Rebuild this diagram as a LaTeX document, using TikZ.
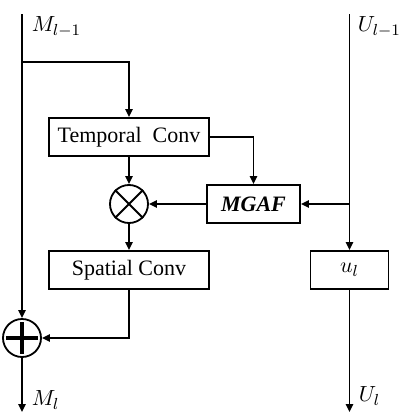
\documentclass[tikz,border=0pt]{standalone}
\usepackage{fontspec}
\setmainfont{Liberation Serif}
\usetikzlibrary{arrows.meta,positioning,calc}

\begin{document}
\begin{tikzpicture}[x=0.5pt, y=-0.5pt, line width=0.9pt,
    font=\fontsize{11}{13}\selectfont,
    blk/.style={draw, minimum height=19pt, inner sep=0pt},
    op/.style={draw, circle, minimum size=19pt, inner sep=0pt},
    arr/.style={-{Triangle[length=4pt, width=3.6pt]}}]
    \useasboundingbox (0,0) rectangle (403,413);
    % blocks
    \node[blk, minimum width=80pt] (tconv) at (129,137) {Temporal\ \ Conv};
    \node[op] (mul) at (129,204) {};
    \draw (mul.north west) -- (mul.south east) (mul.north east) -- (mul.south west);
    \node[blk, minimum width=46.5pt] (mgaf) at (253.5,204) {\textbf{\textit{MGAF}}};
    \node[blk, minimum width=80pt] (sconv) at (129,270) {Spatial Conv};
    \node[blk, minimum width=39pt] (ul) at (349.5,270) {$u_l$};
    \node[op] (add) at (22,338) {};
    \draw[line width=1.6pt] ($(add)!0.8!(add.north)$) -- ($(add)!0.8!(add.south)$)
        ($(add)!0.8!(add.west)$) -- ($(add)!0.8!(add.east)$);
    % streams
    \coordinate (mtop) at (22,14);
    \coordinate (mbot) at (22,412);
    \coordinate (split) at (22,62);
    \coordinate (utop) at (349.5,14);
    \coordinate (ubot) at (349.5,412);
    \coordinate (ujoin) at (349.5,204);
    \node[right, inner sep=0pt] (mprev) at (31,27) {$M_{l-1}$};
    \node[right, inner sep=0pt] (uprev) at (357,27) {$U_{l-1}$};
    \node[right, inner sep=0pt] (mnext) at (31,400) {$M_l$};
    \node[right, inner sep=0pt] (unext) at (358,396) {$U_l$};
    % connectors
    \draw[arr] (mtop) -- (add);
    \draw[arr] (add) -- (mbot);
    \draw[arr] (split) -| (tconv.north);
    \draw[arr] (tconv) -- (mul);
    \draw[arr] (tconv.east) -| (mgaf.north);
    \draw[arr] (mgaf) -- (mul);
    \draw[arr] (ujoin) -- (mgaf);
    \draw[arr] (utop) -- (ul);
    \draw[arr] (ul) -- (ubot);
    \draw[arr] (mul) -- (sconv);
    \draw[arr] (sconv.south) |- (add.east);
\end{tikzpicture}
\end{document}
